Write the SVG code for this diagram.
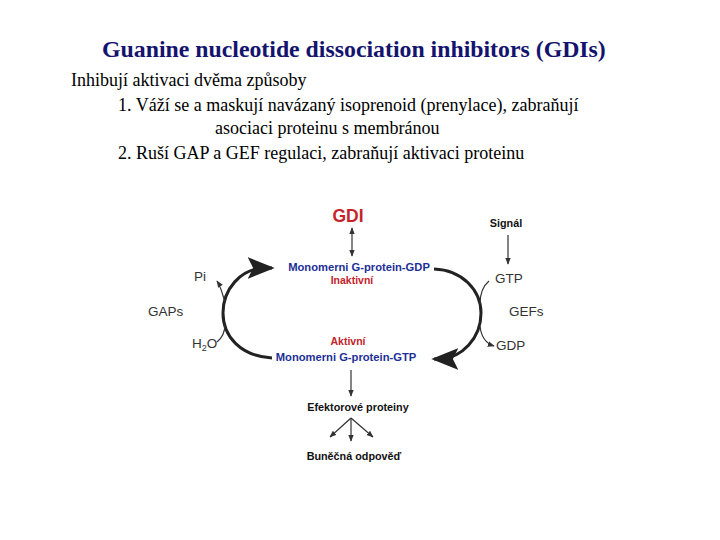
<svg xmlns="http://www.w3.org/2000/svg" width="720" height="540" viewBox="0 0 720 540">
<style>
.title{font-family:"Liberation Serif",serif;font-weight:bold;font-size:23.8px;fill:#14146e}
.body{font-family:"Liberation Serif",serif;font-size:18px;fill:#000}
.sans{font-family:"Liberation Sans",Arial,sans-serif}
.blue{font-weight:bold;font-size:11.2px;fill:#1c2f96}
.red{font-weight:bold;fill:#c4242c}
.blk{font-weight:bold;font-size:10.8px;fill:#111}
.gray{font-size:13.5px;fill:#333}
.big{fill:none;stroke:#222;stroke-width:3}
.thin{fill:none;stroke:#333;stroke-width:1.2}
</style>
<defs>
<marker id="ah" viewBox="0 0 10 10" refX="9" refY="5" markerWidth="7" markerHeight="7" orient="auto-start-reverse" markerUnits="userSpaceOnUse">
<path d="M0,1 L10,5 L0,9 z" fill="#333"/>
</marker>
<marker id="big" viewBox="0 0 10 10" refX="9" refY="5" markerWidth="9" markerHeight="9" orient="auto" markerUnits="strokeWidth">
<path d="M0,1 L10,5 L0,9 L2,5 z" fill="#222"/>
</marker>
</defs>
<rect width="720" height="540" fill="#fff"/>
<g id="text">
<text class="title" x="102" y="57">Guanine nucleotide dissociation inhibitors (GDIs)</text>
<text class="body" x="71" y="86">Inhibují aktivaci dvěma způsoby</text>
<text class="body" x="118" y="111">1. Váží se a maskují navázaný isoprenoid (prenylace), zabraňují</text>
<text class="body" x="215" y="134">asociaci proteinu s membránou</text>
<text class="body" x="118" y="159">2. Ruší GAP a GEF regulaci, zabraňují aktivaci proteinu</text>
</g>
<g id="gdi"><text class="sans red" x="348" y="222" font-size="17.5" text-anchor="middle">GDI</text></g>
<g id="gdp-protein">
<text class="sans blue" x="359" y="271" text-anchor="middle">Monomerni G-protein-GDP</text>
<text class="sans red" x="352" y="284" font-size="10.5" text-anchor="middle">Inaktivní</text>
</g>
<g id="gtp-protein">
<text class="sans red" x="348" y="345" font-size="10.5" text-anchor="middle">Aktivní</text>
<text class="sans blue" x="346" y="361" text-anchor="middle">Monomerni G-protein-GTP</text>
</g>
<g id="signal"><text class="sans blk" x="506" y="227" font-size="10" text-anchor="middle">Signál</text></g>
<g id="gtp"><text class="sans gray" x="495" y="283">GTP</text></g>
<g id="gefs"><text class="sans gray" x="509" y="316">GEFs</text></g>
<g id="gdp"><text class="sans gray" x="496" y="350">GDP</text></g>
<g id="pi"><text class="sans gray" x="194" y="281">Pi</text></g>
<g id="gaps"><text class="sans gray" x="148" y="316">GAPs</text></g>
<g id="h2o"><text class="sans gray" x="192" y="348">H<tspan font-size="9" dy="3">2</tspan><tspan dy="-3">O</tspan></text></g>
<g id="efektor"><text class="sans blk" x="358" y="411" text-anchor="middle">Efektorové proteiny</text></g>
<g id="odpoved"><text class="sans blk" x="354" y="460" font-size="10.3" text-anchor="middle">Buněčná odpověď</text></g>
<g id="connectors">
<line class="thin" x1="352" y1="228" x2="352" y2="256" marker-start="url(#ah)" marker-end="url(#ah)"/>
<line class="thin" x1="508" y1="235" x2="508" y2="264" marker-end="url(#ah)"/>
<path class="big" d="M272 358 C240 356 223 336 223 313 C223 290 240 268 266 268 L272 268" marker-end="url(#big)"/>
<path class="big" d="M434 269 C462 270 481 290 481 313 C481 338 462 358 440 359 L434 359" marker-end="url(#big)"/>
<path class="thin" d="M225 302 C222 293 221 287 217 281" marker-end="url(#ah)"/>
<path class="thin" d="M225 324 C225 332 222 338 217 342"/>
<path class="thin" d="M489 281 C483 286 480 294 480 304"/>
<path class="thin" d="M480 326 C481 336 485 343 494 346" marker-end="url(#ah)"/>
<line class="thin" x1="351" y1="370" x2="351" y2="396" marker-end="url(#ah)"/>
<line class="thin" x1="351" y1="418" x2="330" y2="437" marker-end="url(#ah)"/>
<line class="thin" x1="351" y1="418" x2="351" y2="441" marker-end="url(#ah)"/>
<line class="thin" x1="351" y1="418" x2="373" y2="437" marker-end="url(#ah)"/>
</g>
</svg>
